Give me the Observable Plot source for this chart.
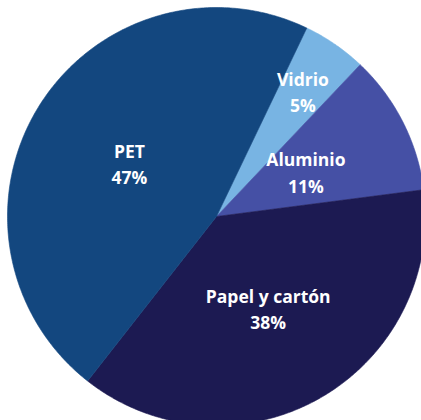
<!DOCTYPE html>
<html>
<head>
<meta charset="utf-8">
<script src="https://cdn.jsdelivr.net/npm/d3@7"></script>
<script src="https://cdn.jsdelivr.net/npm/@observablehq/plot@0.6"></script>
<style>
  html, body { margin: 0; padding: 0; background: #ffffff; }
  #chart { width: 421px; height: 420px; overflow: hidden; }
</style>
</head>
<body>
<div id="chart"></div>
<script>
const categories = ["Vidrio", "Aluminio", "Papel y cartón", "PET"];
const values = [5, 11, 38, 47];
const valueLabels = ["5%", "11%", "38%", "47%"];
const colors = ["#78b4e3", "#4550a5", "#1c1a52", "#13477f"];
const labelRadius = [0.73, 0.48, 0.5, 0.49];
const startAngleDeg = 25.6;

const pie = d3.pie().sort(null).startAngle(startAngleDeg * Math.PI / 180)
  .endAngle((startAngleDeg + 360) * Math.PI / 180);
const arcs = pie(values);

// slice outlines in unit data coordinates (y up), angles clockwise from 12 o'clock
const slicePoints = [];
arcs.forEach((a, i) => {
  const name = categories[i];
  slicePoints.push({name, x: 0, y: 0});
  const n = Math.max(8, Math.ceil((a.endAngle - a.startAngle) / 0.01));
  for (let k = 0; k <= n; k++) {
    const t = a.startAngle + (a.endAngle - a.startAngle) * k / n;
    slicePoints.push({name, x: Math.sin(t), y: Math.cos(t)});
  }
  slicePoints.push({name, x: 0, y: 0});
});

const labels = arcs.map((a, i) => {
  const m = (a.startAngle + a.endAngle) / 2;
  return {name: categories[i], text: categories[i] + "\n" + valueLabels[i],
    x: labelRadius[i] * Math.sin(m), y: labelRadius[i] * Math.cos(m)};
});

const W = 421, H = 420, cx = 216, cy = 216, R = 209;

const chart = Plot.plot({
  width: W,
  height: H,
  margin: 0,
  x: {domain: [-cx / R, (W - cx) / R], range: [0, W], axis: null},
  y: {domain: [(cy - H) / R, cy / R], range: [H, 0], axis: null},
  color: {domain: categories, range: colors},
  style: {background: "#ffffff"},
  marks: [
    Plot.line(slicePoints, {x: "x", y: "y", z: "name", fill: "name", stroke: "name", strokeWidth: 0.6, curve: "linear"}),
    Plot.text(labels, {x: "x", y: "y", text: "text", fill: "white", fontSize: 17.5, fontWeight: "bold",
      fontFamily: "Open Sans", lineHeight: 1.5, textAnchor: "middle"})
  ]
});
document.getElementById("chart").appendChild(chart);
</script>
</body>
</html>
